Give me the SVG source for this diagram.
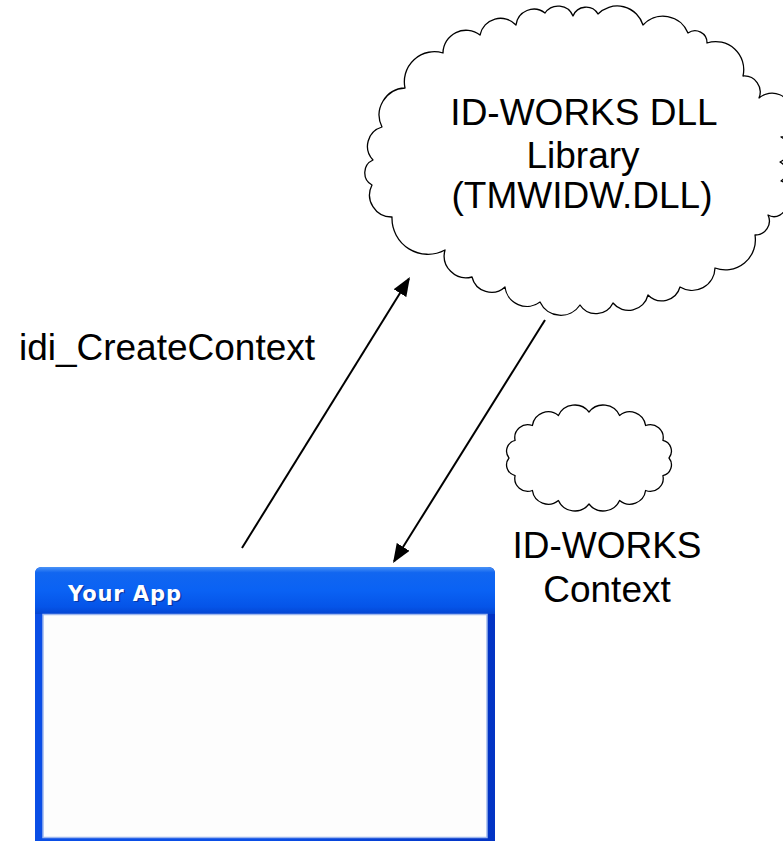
<svg xmlns="http://www.w3.org/2000/svg" width="783" height="841" viewBox="0 0 783 841">
<style>
.lbl{font-family:"Liberation Sans",Arial,sans-serif;font-size:37px;fill:#000;text-anchor:middle}
.cloud{fill:#fff;stroke:#000;stroke-width:1.3;stroke-linejoin:round}
.conn{stroke:#000;stroke-width:2;fill:none}
.title{font-family:"DejaVu Sans",Tahoma,sans-serif;font-weight:bold;font-size:21px;letter-spacing:0.9px}
</style>
<defs>
<marker id="ah" markerUnits="userSpaceOnUse" markerWidth="22" markerHeight="16" refX="17" refY="7.5" orient="auto">
<path d="M0,0 L19,7.5 L0,15 Z" fill="#000"/>
</marker>
<linearGradient id="tb" x1="0" y1="0" x2="0" y2="1">
<stop offset="0" stop-color="#4a93f7"/>
<stop offset="0.12" stop-color="#1166f0"/>
<stop offset="0.5" stop-color="#0a62f4"/>
<stop offset="0.85" stop-color="#0554e8"/>
<stop offset="1" stop-color="#0445d2"/>
</linearGradient>
<linearGradient id="fr" x1="0" y1="0" x2="1" y2="0">
<stop offset="0" stop-color="#0a4ee6"/>
<stop offset="0.5" stop-color="#0a4ee6"/>
<stop offset="1" stop-color="#0233c4"/>
</linearGradient>
</defs>
<rect width="783" height="841" fill="#fff"/>

<g id="dll-cloud">
<path class="cloud" d="M373,160 A20,20 0 0 1 382,127 A27,27 0 0 1 405,88 A30,30 0 0 1 443,53 A23,23 0 0 1 480,35 A21,21 0 0 1 516,25 A18,18 0 0 1 545,13 A16,16 0 0 1 573,16 A14,14 0 0 1 598,14 A27,27 0 0 1 643,25 A27,27 0 0 1 688,33 A12,12 0 0 1 707,43 A28,28 0 0 1 743,76 A16,16 0 0 1 759,98 A20,20 0 0 1 792,112 A16,16 0 0 1 781,137 A14,14 0 0 1 780,162 A11,11 0 0 1 781,181 A14,14 0 0 1 786,205 A12,12 0 0 1 768,215 A14,14 0 0 1 755,235 A30,30 0 0 1 715,268 A23,23 0 0 1 680,287 A19,19 0 0 1 648,295 A20,20 0 0 1 613,303 A19,19 0 0 1 580,305 A23,23 0 0 1 540,302 A22,22 0 0 1 505,287 A20,20 0 0 1 472,277 A22,22 0 0 1 445,250 A36,36 0 0 1 392,217 A22,22 0 0 1 372,185 A14,14 0 0 1 373,160 Z"/>
<text class="lbl" x="584" y="125">ID-WORKS DLL</text>
<text class="lbl" x="583" y="168">Library</text>
<text class="lbl" x="582" y="208">(TMWIDW.DLL)</text>
</g>

<g id="context-cloud">
<path class="cloud" d="M669,458 A11,11 0 0 1 662.9,475.6 A13,13 0 0 1 645.6,490.5 A16,16 0 0 1 619.6,500.5 A18,18 0 0 1 589,504 A18,18 0 0 1 558.4,500.5 A16,16 0 0 1 532.4,490.5 A13,13 0 0 1 515.1,475.6 A11,11 0 0 1 509,458 A11,11 0 0 1 515.1,440.4 A13,13 0 0 1 532.4,425.5 A16,16 0 0 1 558.4,415.5 A18,18 0 0 1 589,412 A18,18 0 0 1 619.6,415.5 A16,16 0 0 1 645.6,425.5 A13,13 0 0 1 662.9,440.4 A11,11 0 0 1 669,458 Z"/>
<text class="lbl" x="607" y="558">ID-WORKS</text>
<text class="lbl" x="607" y="602">Context</text>
</g>

<g id="label-create">
<text class="lbl" x="167" y="360">idi_CreateContext</text>
</g>

<g id="your-app">
<path d="M35,574 Q35,567 42,567 L488,567 Q495,567 495,574 L495,841 L35,841 Z" fill="url(#fr)"/>
<path d="M35,574 Q35,567 42,567 L488,567 Q495,567 495,574 L495,614 L35,614 Z" fill="url(#tb)"/>
<rect x="43" y="614.5" width="444" height="223" fill="#fdfdfd" stroke="#9fb8ee" stroke-width="1.5"/>
<text class="title" x="69.5" y="602" fill="#0a2c8a" opacity="0.7">Your App</text>
<text class="title" x="68" y="600.5" fill="#fff">Your App</text>
</g>

<g id="connectors">
<line class="conn" x1="242" y1="548" x2="408.9" y2="278.7" marker-end="url(#ah)"/>
<line class="conn" x1="545" y1="320" x2="394.1" y2="561.3" marker-end="url(#ah)"/>
</g>
</svg>
